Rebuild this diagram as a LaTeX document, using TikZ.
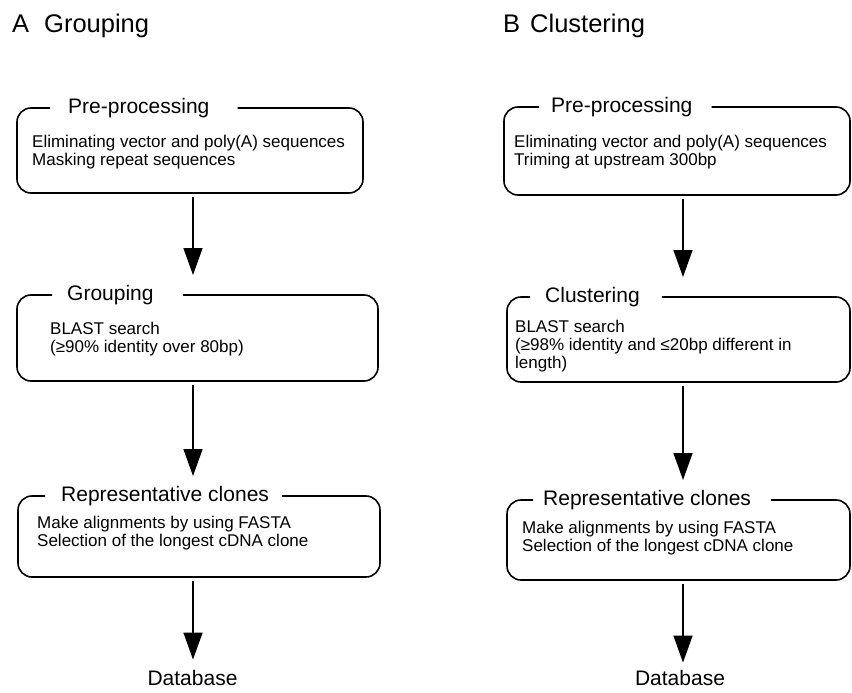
\documentclass[tikz,border=0pt]{standalone}
\usepackage{fontspec}
\setmainfont{Liberation Sans}
\usetikzlibrary{arrows.meta,positioning,calc}

\tikzset{
  paneltitle/.style={anchor=base west,inner sep=0,font=\fontsize{25.5}{28}\selectfont},
  boxtitle/.style={anchor=west,inner sep=0,font=\fontsize{21}{24}\selectfont},
  boxtext/.style={anchor=base west,align=left,inner sep=0,font=\fontsize{17}{18}\selectfont},
  dbtext/.style={anchor=base,inner sep=0,font=\fontsize{21}{24}\selectfont},
  frame/.style={line width=1.6pt,rounded corners=14pt},
  flow/.style={line width=1.4pt,-{Triangle[width=19pt,length=27pt]}}
}

\begin{document}
\begin{tikzpicture}[x=1pt,y=-1pt]
  \useasboundingbox (0,0) rectangle (852,693);
  % panel A: grouping
  \node[paneltitle] (ta) at (12,33) {A\hspace{15pt}Grouping};
  \coordinate (ax) at (193,0);
  % pre-processing (text nodes sit on the baseline of their last line)
  \coordinate (a1nw) at (17,108); \coordinate (a1se) at (363,193);
  \node[boxtitle] (a1t) at (68,108) {Pre-processing};
  \draw[frame] ([xshift=28pt]a1t.east) -| (a1se) -| (a1nw) -- ([xshift=-18pt]a1t.west);
  \node[boxtext] (a1x) at (32,165) {Eliminating vector and poly(A) sequences\\Masking repeat sequences};
  % grouping
  \coordinate (a2nw) at (17,295); \coordinate (a2se) at (378,381);
  \node[boxtitle] (a2t) at (67,295) {Grouping};
  \draw[frame] ([xshift=29pt]a2t.east) -| (a2se) -| (a2nw) -- ([xshift=-15pt]a2t.west);
  \node[boxtext] (a2x) at (50,352) {BLAST search\\(≥90\% identity over 80bp)};
  % representative clones
  \coordinate (a3nw) at (18,496); \coordinate (a3se) at (380,577);
  \node[boxtitle] (a3t) at (61,496) {Representative clones};
  \draw[frame] ([xshift=13pt]a3t.east) -| (a3se) -| (a3nw) -- ([xshift=-16pt]a3t.west);
  \node[boxtext] (a3x) at (37,546) {Make alignments by using FASTA\\Selection of the longest cDNA clone};
  \node[dbtext] (adb) at (192.5,685) {Database};
  % arrows A
  \draw[flow] ([yshift=-4pt]a1se -| ax) -- ([yshift=10pt]a2t.north -| ax);
  \draw[flow] ([yshift=-4pt]a2se -| ax) -- ([yshift=10pt]a3t.north -| ax);
  \draw[flow] ([yshift=-4pt]a3se -| ax) -- ([yshift=10pt]adb.north -| ax);

  % panel B: clustering
  \node[paneltitle] (tb) at (503,33) {B\hspace{10pt}Clustering};
  \coordinate (bx) at (683,0);
  % pre-processing
  \coordinate (b1nw) at (504,107); \coordinate (b1se) at (850,195);
  \node[boxtitle] (b1t) at (551,107) {Pre-processing};
  \draw[frame] ([xshift=19pt]b1t.east) -| (b1se) -| (b1nw) -- ([xshift=-12pt]b1t.west);
  \node[boxtext] (b1x) at (514,165) {Eliminating vector and poly(A) sequences\\Triming at upstream 300bp};
  % clustering
  \coordinate (b2nw) at (507,297); \coordinate (b2se) at (850,382);
  \node[boxtitle] (b2t) at (545,297) {Clustering};
  \draw[frame] ([xshift=22pt]b2t.east) -| (b2se) -| (b2nw) -- ([xshift=-15pt]b2t.west);
  \node[boxtext] (b2x) at (515,368) {BLAST search\\(≥98\% identity and ≤20bp different in\\length)};
  % representative clones
  \coordinate (b3nw) at (507,500); \coordinate (b3se) at (850,580);
  \node[boxtitle] (b3t) at (543,500) {Representative clones};
  \draw[frame] ([xshift=20pt]b3t.east) -| (b3se) -| (b3nw) -- ([xshift=-10pt]b3t.west);
  \node[boxtext] (b3x) at (522,551) {Make alignments by using FASTA\\Selection of the longest cDNA clone};
  \node[dbtext] (bdb) at (680,685) {Database};
  % arrows B
  \draw[flow] ([yshift=-4pt]b1se -| bx) -- ([yshift=10pt]b2t.north -| bx);
  \draw[flow] ([yshift=-4pt]b2se -| bx) -- ([yshift=10pt]b3t.north -| bx);
  \draw[flow] ([yshift=-4pt]b3se -| bx) -- ([yshift=7pt]bdb.north -| bx);
\end{tikzpicture}
\end{document}
